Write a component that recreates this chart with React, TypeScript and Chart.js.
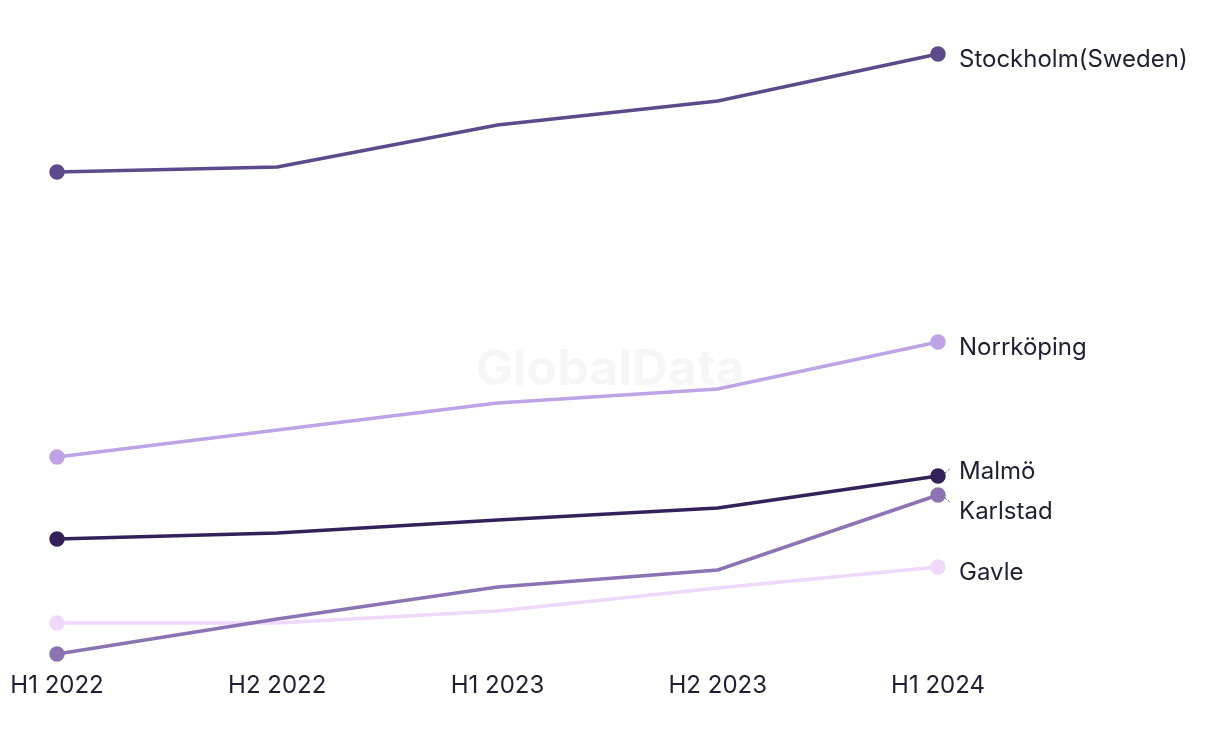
import React, { useEffect, useRef } from "react";
import { Chart, registerables } from "chart.js";

Chart.register(...registerables);

const categories = ["H1 2022", "H2 2022", "H1 2023", "H2 2023", "H1 2024"];
const seriesNames = ["Stockholm(Sweden)", "Norrköping", "Malmö", "Karlstad", "Gavle"];
const stockholm = [498, 503, 545, 569, 616];
const norrkoping = [213, 240, 267, 281, 328];
const malmo = [131, 137, 150, 162, 194];
const karlstad = [16, 51, 83, 100, 175];
const gavle = [47, 47, 59, 82, 103];
const seriesColors = ["#5c4a8a", "#bea3e6", "#35215a", "#8c73b4", "#f0d7fc"];

const FONT = "Inter, 'Noto Sans', sans-serif";
const TEXT = "#1f1f33";

const endLabels = {
  id: "endLabels",
  beforeDatasetsDraw(chart: any) {
    const ctx = chart.ctx;
    ctx.save();
    ctx.font = `bold 50px ${FONT}`;
    ctx.fillStyle = "rgba(0,0,0,0.035)";
    ctx.textAlign = "center";
    ctx.textBaseline = "middle";
    ctx.fillText("GlobalData", 610, 370);
    ctx.restore();
  },
  afterDatasetsDraw(chart: any) {
    const ctx = chart.ctx;
    const items: any[] = [];
    chart.data.datasets.forEach((ds: any, i: number) => {
      const meta = chart.getDatasetMeta(i);
      const pt = meta.data[meta.data.length - 1];
      items.push({ label: ds.label, px: pt.x, py: pt.y, y: pt.y + 6 });
    });
    items.sort((a, b) => a.y - b.y);
    const gap = 40;
    for (let iter = 0; iter < 20; iter++) {
      for (let i = 0; i < items.length - 1; i++) {
        const a = items[i], b = items[i + 1];
        if (b.y - a.y < gap) {
          const mid = (a.y + b.y) / 2;
          a.y = mid - gap / 2;
          b.y = mid + gap / 2;
        }
      }
    }
    ctx.save();
    ctx.font = `24px ${FONT}`;
    ctx.fillStyle = TEXT;
    ctx.textAlign = "left";
    ctx.textBaseline = "middle";
    items.forEach((it) => {
      const tx = it.px + 21;
      ctx.fillText(it.label, tx, it.y);
      if (Math.abs(it.y - (it.py + 6)) > 3) {
        ctx.save();
        ctx.strokeStyle = "#555566";
        ctx.lineWidth = 1;
        ctx.setLineDash([2, 2]);
        ctx.beginPath();
        const dir = it.y < it.py ? -1 : 1;
        ctx.moveTo(it.px + 7, it.py + dir * 3);
        ctx.lineTo(it.px + 13, it.py + dir * 8);
        ctx.stroke();
        ctx.restore();
      }
    });
    ctx.restore();
  },
};

export default function App() {
  const ref = useRef<HTMLCanvasElement>(null);
  useEffect(() => {
    const all = [stockholm, norrkoping, malmo, karlstad, gavle];
    const chart = new Chart(ref.current!, {
      type: "line",
      data: {
        labels: categories,
        datasets: all.map((d, i) => ({
          label: seriesNames[i],
          data: d,
          borderColor: seriesColors[i],
          backgroundColor: seriesColors[i],
          borderWidth: 3.5,
          pointRadius: d.map((_, j) => (j === 0 || j === d.length - 1 ? 6 : 0)),
          pointHoverRadius: 0,
          tension: 0,
        })),
      },
      options: {
        animation: false,
        responsive: false,
        events: [],
        layout: { padding: { top: 20, bottom: 0, left: 57, right: 282 } },
        plugins: { legend: { display: false }, tooltip: { enabled: false } },
        scales: {
          x: {
            offset: false,
            grid: { display: false, drawTicks: false },
            border: { display: false },
            ticks: { color: TEXT, font: { family: FONT, size: 24 }, padding: 1, maxRotation: 0, autoSkip: false },
            afterFit(scale: any) {
              scale.height = 74;
            },
          },
          y: { display: false, min: 0, max: 650 },
        },
      },
      plugins: [endLabels],
    } as any);
    return () => chart.destroy();
  }, []);
  return (
    <div style={{ position: "fixed", left: 0, top: 0, width: 1220, height: 744, background: "#fff" }}>
      <canvas ref={ref} width={1220} height={744} style={{ width: 1220, height: 744 }} />
    </div>
  );
}
